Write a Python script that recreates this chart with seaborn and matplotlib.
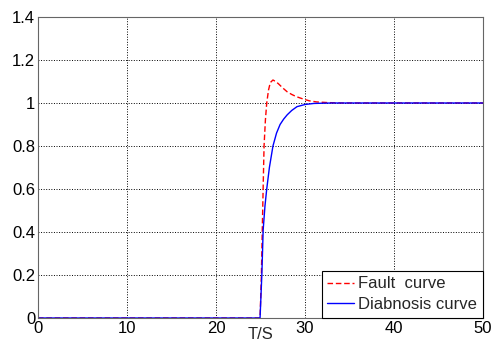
import matplotlib
matplotlib.use('Agg')
import matplotlib.pyplot as plt
import seaborn as sns

# Data
fault_t = [0, 24.95, 25.1, 25.2, 25.3, 25.4, 25.55, 25.7, 25.9, 26.1, 26.4, 26.7, 27.0,
           27.5, 28.0, 28.5, 29.0, 29.9, 30.5, 31.3, 32.5, 34.0, 50]
fault_y = [0, 0, 0.2, 0.41, 0.61, 0.80, 0.92, 1.0, 1.06, 1.095, 1.107, 1.10, 1.09,
           1.07, 1.052, 1.04, 1.03, 1.017, 1.01, 1.005, 1.002, 1.0, 1.0]

diag_t = [0, 24.95, 25.15, 25.3, 25.5, 25.7, 26.0, 26.4, 26.8, 27.2, 27.6, 28.0,
          28.5, 29.1, 30.0, 31.0, 33.0, 50]
diag_y = [0, 0, 0.2, 0.41, 0.52, 0.60, 0.70, 0.80, 0.86, 0.90, 0.925, 0.945,
          0.965, 0.983, 0.993, 0.998, 1.0, 1.0]

x_ticks = [0, 10, 20, 30, 40, 50]
y_ticks = [0, 0.2, 0.4, 0.6, 0.8, 1, 1.2, 1.4]
y_labels = ['0', '0.2', '0.4', '0.6', '0.8', '1', '1.2', '1.4']

sns.set_style("white")
plt.rcParams['font.family'] = ['Liberation Sans', 'DejaVu Sans']
plt.rcParams['font.size'] = 12

fig = plt.figure(figsize=(4.91, 3.47), dpi=100)
ax = fig.add_axes([38 / 491, 1 - 318 / 347, 445 / 491, 301 / 347])

sns.lineplot(x=fault_t, y=fault_y, ax=ax, color='#ff0000', linestyle=(0, (4, 2)),
             linewidth=1.0, label='Fault  curve')
sns.lineplot(x=diag_t, y=diag_y, ax=ax, color='#0000ff', linestyle='-',
             linewidth=1.0, label='Diabnosis curve')

ax.set_xlim(0, 50)
ax.set_ylim(0, 1.4)
ax.set_xticks(x_ticks)
ax.set_yticks(y_ticks)
ax.set_yticklabels(y_labels)
ax.grid(True, color='black', linestyle=':', linewidth=0.7)
ax.tick_params(direction='in', length=4, colors='black', labelsize=12, pad=2)
for s in ax.spines.values():
    s.set_color('#666666')
    s.set_linewidth(0.8)
ax.set_xlabel('T/S', fontsize=12, labelpad=-6)

leg = ax.legend(loc='lower right', borderaxespad=0, frameon=True, fancybox=False,
                edgecolor='black', framealpha=1, handlelength=1.6,
                handletextpad=0.25, borderpad=0.35, labelspacing=0.35, fontsize=12)
leg.get_frame().set_linewidth(0.8)

fig.savefig('out.png', dpi=100)
